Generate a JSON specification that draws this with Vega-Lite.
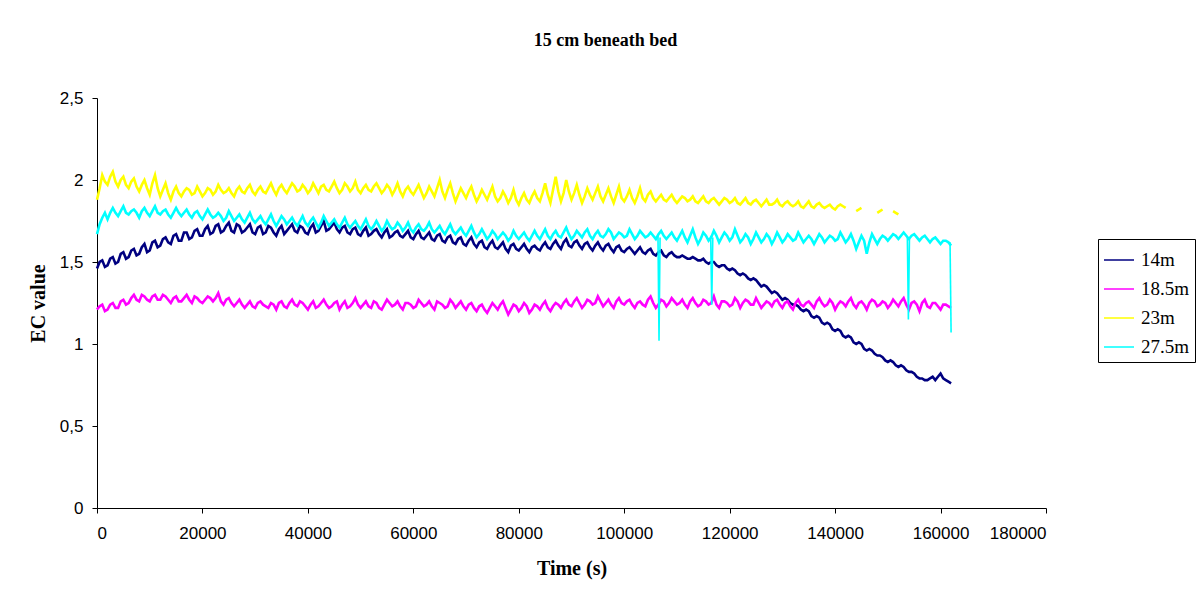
{
"$schema":"https://vega.github.io/schema/vega-lite/v6.json",
"width":949,"height":410,
"autosize":{"type":"none"},
"padding":{"left":97,"top":98,"right":152,"bottom":91},
"background":"white",
"title":{"text":"15 cm beneath bed","font":"Liberation Serif","fontSize":18,"fontWeight":"bold","color":"black","anchor":"middle","dx":34,"offset":39},
"config":{"view":{"stroke":null},
"locale":{"number":{"decimal":",","thousands":".","grouping":[3],"currency":["",""]}},
"axis":{"domainColor":"#000","tickColor":"#000","labelFont":"Liberation Sans","labelFontSize":17,"labelColor":"#000","titleFont":"Liberation Serif","titleFontSize":20,"titleFontWeight":"bold","titleColor":"#000","grid":false,"tickSize":5}},
"layer":[
{"data":{"values":[
{"t":0,"a":1.46,"b":1.21,"c":1.88,"d":1.67},
{"t":1000,"a":1.51,"b":1.24,"c":2.03,"d":1.77},
{"t":2000,"a":1.48,"b":1.21,"c":1.97,"d":1.76},
{"t":3000,"a":1.53,"b":1.25,"c":2.05,"d":1.83},
{"t":4000,"a":1.50,"b":1.22,"c":1.96,"d":1.78},
{"t":5000,"a":1.56,"b":1.27,"c":2.02,"d":1.84},
{"t":6000,"a":1.53,"b":1.25,"c":1.95,"d":1.79},
{"t":7000,"a":1.58,"b":1.30,"c":2.01,"d":1.82},
{"t":8000,"a":1.55,"b":1.26,"c":1.93,"d":1.77},
{"t":9000,"a":1.61,"b":1.29,"c":2.00,"d":1.83},
{"t":10000,"a":1.57,"b":1.26,"c":1.91,"d":1.78},
{"t":11000,"a":1.63,"b":1.30,"c":2.03,"d":1.84},
{"t":12000,"a":1.60,"b":1.27,"c":1.90,"d":1.79},
{"t":13000,"a":1.65,"b":1.29,"c":1.98,"d":1.82},
{"t":14000,"a":1.61,"b":1.25,"c":1.88,"d":1.77},
{"t":15000,"a":1.67,"b":1.29,"c":1.96,"d":1.83},
{"t":16000,"a":1.63,"b":1.26,"c":1.90,"d":1.78},
{"t":17000,"a":1.68,"b":1.30,"c":1.95,"d":1.82},
{"t":18000,"a":1.65,"b":1.25,"c":1.91,"d":1.77},
{"t":19000,"a":1.70,"b":1.28,"c":1.96,"d":1.81},
{"t":20000,"a":1.66,"b":1.25,"c":1.90,"d":1.76},
{"t":21000,"a":1.72,"b":1.29,"c":1.95,"d":1.82},
{"t":22000,"a":1.68,"b":1.26,"c":1.91,"d":1.77},
{"t":23000,"a":1.73,"b":1.31,"c":1.97,"d":1.80},
{"t":24000,"a":1.69,"b":1.24,"c":1.92,"d":1.75},
{"t":25000,"a":1.74,"b":1.28,"c":1.95,"d":1.81},
{"t":26000,"a":1.68,"b":1.23,"c":1.90,"d":1.75},
{"t":27000,"a":1.72,"b":1.27,"c":1.96,"d":1.79},
{"t":28000,"a":1.69,"b":1.22,"c":1.92,"d":1.74},
{"t":29000,"a":1.73,"b":1.26,"c":1.97,"d":1.80},
{"t":30000,"a":1.67,"b":1.22,"c":1.91,"d":1.74},
{"t":31000,"a":1.72,"b":1.26,"c":1.96,"d":1.78},
{"t":32000,"a":1.68,"b":1.23,"c":1.92,"d":1.73},
{"t":33000,"a":1.71,"b":1.25,"c":1.98,"d":1.79},
{"t":34000,"a":1.66,"b":1.21,"c":1.91,"d":1.72},
{"t":35000,"a":1.72,"b":1.26,"c":1.97,"d":1.78},
{"t":36000,"a":1.69,"b":1.22,"c":1.92,"d":1.73},
{"t":37000,"a":1.73,"b":1.27,"c":1.98,"d":1.77},
{"t":38000,"a":1.68,"b":1.23,"c":1.93,"d":1.72},
{"t":39000,"a":1.71,"b":1.25,"c":1.97,"d":1.78},
{"t":40000,"a":1.67,"b":1.21,"c":1.92,"d":1.72},
{"t":41000,"a":1.73,"b":1.26,"c":1.98,"d":1.77},
{"t":42000,"a":1.69,"b":1.23,"c":1.92,"d":1.71},
{"t":43000,"a":1.75,"b":1.27,"c":1.97,"d":1.78},
{"t":44000,"a":1.70,"b":1.22,"c":1.93,"d":1.72},
{"t":45000,"a":1.74,"b":1.25,"c":1.99,"d":1.76},
{"t":46000,"a":1.68,"b":1.21,"c":1.92,"d":1.71},
{"t":47000,"a":1.72,"b":1.26,"c":1.98,"d":1.77},
{"t":48000,"a":1.67,"b":1.23,"c":1.93,"d":1.71},
{"t":49000,"a":1.71,"b":1.28,"c":1.99,"d":1.75},
{"t":50000,"a":1.66,"b":1.22,"c":1.92,"d":1.70},
{"t":51000,"a":1.71,"b":1.26,"c":1.97,"d":1.76},
{"t":52000,"a":1.67,"b":1.22,"c":1.93,"d":1.70},
{"t":53000,"a":1.70,"b":1.25,"c":1.98,"d":1.75},
{"t":54000,"a":1.65,"b":1.21,"c":1.92,"d":1.69},
{"t":55000,"a":1.70,"b":1.27,"c":1.97,"d":1.75},
{"t":56000,"a":1.66,"b":1.23,"c":1.91,"d":1.70},
{"t":57000,"a":1.69,"b":1.26,"c":1.98,"d":1.74},
{"t":58000,"a":1.65,"b":1.21,"c":1.90,"d":1.69},
{"t":59000,"a":1.69,"b":1.25,"c":1.96,"d":1.74},
{"t":60000,"a":1.64,"b":1.22,"c":1.91,"d":1.68},
{"t":61000,"a":1.69,"b":1.27,"c":1.97,"d":1.73},
{"t":62000,"a":1.64,"b":1.23,"c":1.89,"d":1.69},
{"t":63000,"a":1.68,"b":1.26,"c":1.96,"d":1.74},
{"t":64000,"a":1.63,"b":1.21,"c":1.90,"d":1.68},
{"t":65000,"a":1.67,"b":1.25,"c":2.00,"d":1.72},
{"t":66000,"a":1.62,"b":1.22,"c":1.89,"d":1.67},
{"t":67000,"a":1.66,"b":1.27,"c":1.98,"d":1.73},
{"t":68000,"a":1.61,"b":1.22,"c":1.87,"d":1.67},
{"t":69000,"a":1.65,"b":1.26,"c":1.95,"d":1.71},
{"t":70000,"a":1.60,"b":1.21,"c":1.89,"d":1.66},
{"t":71000,"a":1.65,"b":1.25,"c":1.96,"d":1.72},
{"t":72000,"a":1.59,"b":1.20,"c":1.87,"d":1.65},
{"t":73000,"a":1.63,"b":1.24,"c":1.94,"d":1.70},
{"t":74000,"a":1.58,"b":1.19,"c":1.88,"d":1.64},
{"t":75000,"a":1.63,"b":1.25,"c":1.96,"d":1.69},
{"t":76000,"a":1.58,"b":1.21,"c":1.87,"d":1.64},
{"t":77000,"a":1.62,"b":1.26,"c":1.93,"d":1.68},
{"t":78000,"a":1.56,"b":1.18,"c":1.86,"d":1.63},
{"t":79000,"a":1.61,"b":1.24,"c":1.94,"d":1.69},
{"t":80000,"a":1.57,"b":1.20,"c":1.85,"d":1.64},
{"t":81000,"a":1.61,"b":1.25,"c":1.92,"d":1.68},
{"t":82000,"a":1.56,"b":1.19,"c":1.86,"d":1.63},
{"t":83000,"a":1.60,"b":1.24,"c":1.93,"d":1.69},
{"t":84000,"a":1.57,"b":1.21,"c":1.87,"d":1.64},
{"t":85000,"a":1.62,"b":1.26,"c":1.98,"d":1.70},
{"t":86000,"a":1.58,"b":1.20,"c":1.86,"d":1.64},
{"t":87000,"a":1.63,"b":1.25,"c":2.02,"d":1.69},
{"t":88000,"a":1.58,"b":1.22,"c":1.87,"d":1.65},
{"t":89000,"a":1.64,"b":1.27,"c":2.00,"d":1.71},
{"t":90000,"a":1.59,"b":1.23,"c":1.88,"d":1.64},
{"t":91000,"a":1.63,"b":1.28,"c":1.97,"d":1.69},
{"t":92000,"a":1.58,"b":1.22,"c":1.86,"d":1.65},
{"t":93000,"a":1.62,"b":1.27,"c":1.95,"d":1.70},
{"t":94000,"a":1.57,"b":1.24,"c":1.88,"d":1.64},
{"t":95000,"a":1.62,"b":1.29,"c":1.96,"d":1.69},
{"t":96000,"a":1.57,"b":1.23,"c":1.87,"d":1.65},
{"t":97000,"a":1.61,"b":1.27,"c":1.95,"d":1.70},
{"t":98000,"a":1.56,"b":1.22,"c":1.86,"d":1.64},
{"t":99000,"a":1.60,"b":1.28,"c":1.96,"d":1.68},
{"t":100000,"a":1.56,"b":1.24,"c":1.87,"d":1.65},
{"t":101000,"a":1.59,"b":1.27,"c":1.94,"d":1.70},
{"t":102000,"a":1.55,"b":1.22,"c":1.86,"d":1.64},
{"t":103000,"a":1.59,"b":1.26,"c":1.95,"d":1.69},
{"t":104000,"a":1.55,"b":1.23,"c":1.87,"d":1.65},
{"t":105000,"a":1.58,"b":1.29,"c":1.93,"d":1.68},
{"t":106000,"a":1.54,"b":1.22,"c":1.87,"d":1.64},
{"t":107000,"a":1.57,"b":1.27,"c":1.91,"d":1.69},
{"t":108000,"a":1.53,"b":1.23,"c":1.87,"d":1.64},
{"t":109000,"a":1.56,"b":1.28,"c":1.91,"d":1.68},
{"t":110000,"a":1.53,"b":1.24,"c":1.86,"d":1.63},
{"t":111000,"a":1.54,"b":1.27,"c":1.90,"d":1.69},
{"t":112000,"a":1.52,"b":1.22,"c":1.87,"d":1.62},
{"t":113000,"a":1.53,"b":1.28,"c":1.90,"d":1.70},
{"t":114000,"a":1.51,"b":1.23,"c":1.86,"d":1.61},
{"t":115000,"a":1.52,"b":1.27,"c":1.90,"d":1.68},
{"t":116000,"a":1.49,"b":1.24,"c":1.86,"d":1.63},
{"t":117000,"a":1.50,"b":1.29,"c":1.89,"d":1.69},
{"t":118000,"a":1.47,"b":1.22,"c":1.85,"d":1.62},
{"t":119000,"a":1.48,"b":1.26,"c":1.89,"d":1.68},
{"t":120000,"a":1.45,"b":1.23,"c":1.86,"d":1.63},
{"t":121000,"a":1.45,"b":1.28,"c":1.89,"d":1.70},
{"t":122000,"a":1.42,"b":1.22,"c":1.85,"d":1.62},
{"t":123000,"a":1.42,"b":1.27,"c":1.89,"d":1.67},
{"t":124000,"a":1.39,"b":1.24,"c":1.85,"d":1.61},
{"t":125000,"a":1.39,"b":1.28,"c":1.88,"d":1.68},
{"t":126000,"a":1.35,"b":1.22,"c":1.84,"d":1.62},
{"t":127000,"a":1.35,"b":1.26,"c":1.88,"d":1.67},
{"t":128000,"a":1.31,"b":1.23,"c":1.85,"d":1.61},
{"t":129000,"a":1.31,"b":1.27,"c":1.88,"d":1.68},
{"t":130000,"a":1.27,"b":1.22,"c":1.84,"d":1.62},
{"t":131000,"a":1.27,"b":1.26,"c":1.87,"d":1.67},
{"t":132000,"a":1.24,"b":1.21,"c":1.84,"d":1.63},
{"t":133000,"a":1.23,"b":1.27,"c":1.87,"d":1.68},
{"t":134000,"a":1.20,"b":1.23,"c":1.83,"d":1.62},
{"t":135000,"a":1.20,"b":1.26,"c":1.87,"d":1.66},
{"t":136000,"a":1.16,"b":1.22,"c":1.83,"d":1.61},
{"t":137000,"a":1.16,"b":1.28,"c":1.86,"d":1.67},
{"t":138000,"a":1.12,"b":1.23,"c":1.83,"d":1.62},
{"t":139000,"a":1.12,"b":1.27,"c":1.85,"d":1.66},
{"t":140000,"a":1.08,"b":1.21,"c":1.82,"d":1.63},
{"t":141000,"a":1.08,"b":1.26,"c":1.85,"d":1.68},
{"t":142000,"a":1.04,"b":1.23,"c":1.83,"d":1.62},
{"t":143000,"a":1.04,"b":1.28,"c":null,"d":1.67},
{"t":144000,"a":1.00,"b":1.22,"c":1.81,"d":1.58},
{"t":145000,"a":1.00,"b":1.26,"c":1.83,"d":1.66},
{"t":146000,"a":0.96,"b":1.21,"c":null,"d":1.55},
{"t":147000,"a":0.96,"b":1.27,"c":null,"d":1.67},
{"t":148000,"a":0.93,"b":1.23,"c":1.80,"d":1.61},
{"t":149000,"a":0.92,"b":1.26,"c":1.82,"d":1.66},
{"t":150000,"a":0.89,"b":1.22,"c":null,"d":1.63},
{"t":151000,"a":0.89,"b":1.27,"c":1.81,"d":1.67},
{"t":152000,"a":0.86,"b":1.23,"c":1.79,"d":1.64},
{"t":153000,"a":0.86,"b":1.28,"c":null,"d":1.68},
{"t":154000,"a":0.83,"b":1.21,"c":null,"d":1.64},
{"t":155000,"a":0.82,"b":1.26,"c":null,"d":1.67},
{"t":156000,"a":0.79,"b":1.20,"c":null,"d":1.63},
{"t":157000,"a":0.78,"b":1.27,"c":null,"d":1.66},
{"t":158000,"a":0.79,"b":1.22,"c":null,"d":1.62},
{"t":159000,"a":0.78,"b":1.25,"c":null,"d":1.65},
{"t":160000,"a":0.82,"b":1.21,"c":null,"d":1.61},
{"t":161000,"a":0.78,"b":1.24,"c":null,"d":1.63},
{"t":162000,"a":0.76,"b":1.22,"c":null,"d":1.60},
{"t":500,"a":1.50,"b":1.23,"c":1.95,"d":1.73},
{"t":1500,"a":1.47,"b":1.20,"c":1.99,"d":1.80},
{"t":2500,"a":1.52,"b":1.24,"c":2.02,"d":1.80},
{"t":3500,"a":1.49,"b":1.22,"c":1.99,"d":1.80},
{"t":4500,"a":1.55,"b":1.26,"c":2.00,"d":1.81},
{"t":5500,"a":1.52,"b":1.24,"c":1.97,"d":1.80},
{"t":6500,"a":1.57,"b":1.28,"c":1.99,"d":1.81},
{"t":7500,"a":1.54,"b":1.27,"c":1.96,"d":1.80},
{"t":8500,"a":1.59,"b":1.30,"c":1.97,"d":1.81},
{"t":9500,"a":1.56,"b":1.27,"c":1.95,"d":1.80},
{"t":10500,"a":1.62,"b":1.29,"c":1.98,"d":1.81},
{"t":11500,"a":1.59,"b":1.27,"c":1.95,"d":1.80},
{"t":12500,"a":1.64,"b":1.30,"c":1.94,"d":1.81},
{"t":13500,"a":1.62,"b":1.27,"c":1.92,"d":1.79},
{"t":14500,"a":1.66,"b":1.28,"c":1.93,"d":1.80},
{"t":15500,"a":1.63,"b":1.26,"c":1.92,"d":1.80},
{"t":16500,"a":1.68,"b":1.28,"c":1.93,"d":1.80},
{"t":17500,"a":1.64,"b":1.27,"c":1.94,"d":1.79},
{"t":18500,"a":1.69,"b":1.29,"c":1.92,"d":1.80},
{"t":19500,"a":1.66,"b":1.26,"c":1.93,"d":1.78},
{"t":20500,"a":1.70,"b":1.27,"c":1.92,"d":1.79},
{"t":21500,"a":1.67,"b":1.28,"c":1.94,"d":1.79},
{"t":22500,"a":1.72,"b":1.28,"c":1.93,"d":1.78},
{"t":23500,"a":1.68,"b":1.26,"c":1.94,"d":1.78},
{"t":24500,"a":1.72,"b":1.27,"c":1.93,"d":1.77},
{"t":25500,"a":1.69,"b":1.25,"c":1.92,"d":1.78},
{"t":26500,"a":1.73,"b":1.25,"c":1.94,"d":1.77},
{"t":27500,"a":1.68,"b":1.24,"c":1.93,"d":1.76},
{"t":28500,"a":1.71,"b":1.24,"c":1.95,"d":1.77},
{"t":29500,"a":1.68,"b":1.23,"c":1.93,"d":1.76},
{"t":30500,"a":1.71,"b":1.25,"c":1.94,"d":1.76},
{"t":31500,"a":1.67,"b":1.24,"c":1.93,"d":1.75},
{"t":32500,"a":1.72,"b":1.22,"c":1.95,"d":1.76},
{"t":33500,"a":1.68,"b":1.24,"c":1.94,"d":1.75},
{"t":34500,"a":1.70,"b":1.25,"c":1.95,"d":1.75},
{"t":35500,"a":1.67,"b":1.23,"c":1.94,"d":1.76},
{"t":36500,"a":1.71,"b":1.25,"c":1.95,"d":1.75},
{"t":37500,"a":1.69,"b":1.24,"c":1.96,"d":1.74},
{"t":38500,"a":1.72,"b":1.26,"c":1.94,"d":1.75},
{"t":39500,"a":1.68,"b":1.23,"c":1.95,"d":1.74},
{"t":40500,"a":1.71,"b":1.24,"c":1.94,"d":1.75},
{"t":41500,"a":1.68,"b":1.22,"c":1.95,"d":1.74},
{"t":42500,"a":1.72,"b":1.25,"c":1.96,"d":1.74},
{"t":43500,"a":1.69,"b":1.24,"c":1.94,"d":1.75},
{"t":44500,"a":1.72,"b":1.23,"c":1.96,"d":1.74},
{"t":45500,"a":1.70,"b":1.26,"c":1.95,"d":1.73},
{"t":46500,"a":1.71,"b":1.24,"c":1.94,"d":1.74},
{"t":47500,"a":1.68,"b":1.22,"c":1.96,"d":1.73},
{"t":48500,"a":1.70,"b":1.25,"c":1.95,"d":1.73},
{"t":49500,"a":1.67,"b":1.24,"c":1.94,"d":1.72},
{"t":50500,"a":1.69,"b":1.24,"c":1.95,"d":1.73},
{"t":51500,"a":1.66,"b":1.23,"c":1.94,"d":1.72},
{"t":52500,"a":1.69,"b":1.26,"c":1.96,"d":1.72},
{"t":53500,"a":1.67,"b":1.22,"c":1.95,"d":1.72},
{"t":54500,"a":1.68,"b":1.24,"c":1.94,"d":1.71},
{"t":55500,"a":1.65,"b":1.25,"c":1.95,"d":1.72},
{"t":56500,"a":1.68,"b":1.24,"c":1.94,"d":1.71},
{"t":57500,"a":1.66,"b":1.23,"c":1.93,"d":1.72},
{"t":58500,"a":1.67,"b":1.25,"c":1.94,"d":1.71},
{"t":59500,"a":1.65,"b":1.24,"c":1.93,"d":1.70},
{"t":60500,"a":1.67,"b":1.23,"c":1.94,"d":1.71},
{"t":61500,"a":1.65,"b":1.25,"c":1.93,"d":1.70},
{"t":62500,"a":1.66,"b":1.24,"c":1.92,"d":1.71},
{"t":63500,"a":1.64,"b":1.23,"c":1.93,"d":1.70},
{"t":64500,"a":1.66,"b":1.26,"c":1.95,"d":1.70},
{"t":65500,"a":1.63,"b":1.24,"c":1.93,"d":1.69},
{"t":66500,"a":1.65,"b":1.23,"c":1.94,"d":1.70},
{"t":67500,"a":1.62,"b":1.25,"c":1.92,"d":1.69},
{"t":68500,"a":1.64,"b":1.24,"c":1.91,"d":1.69},
{"t":69500,"a":1.61,"b":1.23,"c":1.92,"d":1.68},
{"t":70500,"a":1.63,"b":1.24,"c":1.93,"d":1.69},
{"t":71500,"a":1.61,"b":1.22,"c":1.91,"d":1.68},
{"t":72500,"a":1.62,"b":1.23,"c":1.90,"d":1.67},
{"t":73500,"a":1.59,"b":1.21,"c":1.91,"d":1.67},
{"t":74500,"a":1.61,"b":1.22,"c":1.92,"d":1.66},
{"t":75500,"a":1.59,"b":1.23,"c":1.90,"d":1.67},
{"t":76500,"a":1.60,"b":1.24,"c":1.89,"d":1.66},
{"t":77500,"a":1.58,"b":1.22,"c":1.90,"d":1.66},
{"t":78500,"a":1.60,"b":1.21,"c":1.89,"d":1.65},
{"t":79500,"a":1.58,"b":1.23,"c":1.88,"d":1.66},
{"t":80500,"a":1.59,"b":1.22,"c":1.89,"d":1.66},
{"t":81500,"a":1.58,"b":1.23,"c":1.88,"d":1.65},
{"t":82500,"a":1.59,"b":1.21,"c":1.90,"d":1.66},
{"t":83500,"a":1.58,"b":1.23,"c":1.89,"d":1.66},
{"t":84500,"a":1.60,"b":1.24,"c":1.92,"d":1.67},
{"t":85500,"a":1.59,"b":1.22,"c":1.91,"d":1.66},
{"t":86500,"a":1.61,"b":1.23,"c":1.94,"d":1.67},
{"t":87500,"a":1.60,"b":1.24,"c":1.93,"d":1.66},
{"t":88500,"a":1.62,"b":1.25,"c":1.92,"d":1.68},
{"t":89500,"a":1.60,"b":1.24,"c":1.93,"d":1.67},
{"t":90500,"a":1.62,"b":1.26,"c":1.92,"d":1.66},
{"t":91500,"a":1.60,"b":1.25,"c":1.91,"d":1.67},
{"t":92500,"a":1.61,"b":1.24,"c":1.90,"d":1.68},
{"t":93500,"a":1.59,"b":1.26,"c":1.91,"d":1.66},
{"t":94500,"a":1.60,"b":1.25,"c":1.92,"d":1.67},
{"t":95500,"a":1.59,"b":1.26,"c":1.90,"d":1.66},
{"t":96500,"a":1.60,"b":1.25,"c":1.91,"d":1.67},
{"t":97500,"a":1.58,"b":1.24,"c":1.90,"d":1.68},
{"t":98500,"a":1.59,"b":1.26,"c":1.91,"d":1.66},
{"t":99500,"a":1.57,"b":1.25,"c":1.89,"d":1.67},
{"t":100500,"a":1.58,"b":1.26,"c":1.90,"d":1.66},
{"t":101500,"a":1.57,"b":1.24,"c":1.89,"d":1.67},
{"t":102500,"a":1.57,"b":1.25,"c":1.90,"d":1.66},
{"t":103500,"a":1.56,"b":1.24,"c":1.89,"d":1.67},
{"t":104500,"a":1.57,"b":1.27,"c":1.91,"d":1.66},
{"t":105500,"a":1.55,"b":1.25,"c":1.89,"d":1.66},
{"t":106500,"a":1.56,"b":1.24,"c":1.89,"d":1.67},
{"t":107500,"a":1.54,"b":1.26,"c":1.88,"d":1.66},
{"t":108500,"a":1.55,"b":1.25,"c":1.89,"d":1.66},
{"t":109500,"a":1.54,"b":1.26,"c":1.88,"d":1.65},
{"t":110500,"a":1.53,"b":1.25,"c":1.88,"d":1.66},
{"t":111500,"a":1.53,"b":1.24,"c":1.89,"d":1.65},
{"t":112500,"a":1.52,"b":1.26,"c":1.88,"d":1.66},
{"t":113500,"a":1.52,"b":1.25,"c":1.87,"d":1.65},
{"t":114500,"a":1.51,"b":1.24,"c":1.88,"d":1.64},
{"t":115500,"a":1.50,"b":1.26,"c":1.87,"d":1.66},
{"t":116500,"a":1.50,"b":1.25,"c":1.88,"d":1.65},
{"t":117500,"a":1.48,"b":1.24,"c":1.87,"d":1.66},
{"t":118500,"a":1.48,"b":1.26,"c":1.87,"d":1.65},
{"t":119500,"a":1.46,"b":1.25,"c":1.88,"d":1.66},
{"t":120500,"a":1.46,"b":1.24,"c":1.87,"d":1.65},
{"t":121500,"a":1.43,"b":1.26,"c":1.86,"d":1.66},
{"t":122500,"a":1.43,"b":1.25,"c":1.87,"d":1.64},
{"t":123500,"a":1.40,"b":1.26,"c":1.86,"d":1.65},
{"t":124500,"a":1.40,"b":1.24,"c":1.87,"d":1.64},
{"t":125500,"a":1.37,"b":1.25,"c":1.86,"d":1.65},
{"t":126500,"a":1.36,"b":1.24,"c":1.86,"d":1.64},
{"t":127500,"a":1.33,"b":1.25,"c":1.85,"d":1.65},
{"t":128500,"a":1.32,"b":1.26,"c":1.86,"d":1.64},
{"t":129500,"a":1.29,"b":1.24,"c":1.85,"d":1.65},
{"t":130500,"a":1.28,"b":1.25,"c":1.86,"d":1.64},
{"t":131500,"a":1.25,"b":1.23,"c":1.85,"d":1.65},
{"t":132500,"a":1.24,"b":1.25,"c":1.85,"d":1.64},
{"t":133500,"a":1.21,"b":1.24,"c":1.84,"d":1.65},
{"t":134500,"a":1.21,"b":1.25,"c":1.85,"d":1.64},
{"t":135500,"a":1.17,"b":1.24,"c":1.84,"d":1.64},
{"t":136500,"a":1.17,"b":1.26,"c":1.85,"d":1.64},
{"t":137500,"a":1.13,"b":1.25,"c":1.84,"d":1.65},
{"t":138500,"a":1.13,"b":1.24,"c":1.84,"d":1.64},
{"t":139500,"a":1.09,"b":1.25,"c":1.83,"d":1.65},
{"t":140500,"a":1.09,"b":1.24,"c":1.84,"d":1.64},
{"t":141500,"a":1.05,"b":1.25,"c":1.84,"d":1.65},
{"t":142500,"a":1.05,"b":1.26,"c":null,"d":1.64},
{"t":143500,"a":1.01,"b":1.24,"c":null,"d":1.63},
{"t":144500,"a":1.01,"b":1.25,"c":1.82,"d":1.62},
{"t":145500,"a":0.97,"b":1.24,"c":null,"d":1.63},
{"t":146500,"a":0.97,"b":1.25,"c":null,"d":1.62},
{"t":147500,"a":0.94,"b":1.26,"c":null,"d":1.64},
{"t":148500,"a":0.93,"b":1.24,"c":1.81,"d":1.64},
{"t":149500,"a":0.90,"b":1.25,"c":null,"d":1.65},
{"t":150500,"a":0.90,"b":1.24,"c":null,"d":1.65},
{"t":151500,"a":0.87,"b":1.25,"c":1.80,"d":1.66},
{"t":152500,"a":0.87,"b":1.26,"c":null,"d":1.66},
{"t":153500,"a":0.84,"b":1.24,"c":null,"d":1.66},
{"t":154500,"a":0.83,"b":1.25,"c":null,"d":1.66},
{"t":155500,"a":0.80,"b":1.24,"c":null,"d":1.65},
{"t":156500,"a":0.79,"b":1.25,"c":null,"d":1.65},
{"t":157500,"a":0.78,"b":1.23,"c":null,"d":1.64},
{"t":158500,"a":0.80,"b":1.25,"c":null,"d":1.64},
{"t":159500,"a":0.80,"b":1.23,"c":null,"d":1.63},
{"t":160500,"a":0.79,"b":1.24,"c":null,"d":1.63},
{"t":161500,"a":0.77,"b":1.23,"c":null,"d":1.62}
]},
"transform":[{"fold":["a","b","c","d"],"as":["s","v"]}],
"mark":{"type":"line","strokeWidth":2.6,"strokeJoin":"miter"},
"encoding":{
"x":{"field":"t","type":"quantitative","scale":{"domain":[0,180000],"nice":false},
"axis":{"title":"Time  (s)","values":[0,20000,40000,60000,80000,100000,120000,140000,160000,180000],"format":"d","labelPadding":12,"titlePadding":17}},
"y":{"field":"v","type":"quantitative","scale":{"domain":[0,2.5],"nice":false},
"axis":{"title":"EC value","values":[0,0.5,1,1.5,2,2.5],"format":"~g","labelPadding":9,"titlePadding":11}},
"color":{"field":"s","type":"nominal","scale":{"domain":["a","b","c","d"],"range":["#000080","#FF00FF","#FFFF00","#00FFFF"]},
"legend":{"title":null,"orient":"none","legendX":1001,"legendY":141,"strokeColor":"#000","fillColor":"white","padding":5,"symbolType":"stroke","symbolSize":900,"symbolStrokeWidth":1.5,"labelFont":"Liberation Serif","labelFontSize":19,"labelColor":"#000","labelOffset":6,"rowPadding":3,
"labelExpr":"datum.label == 'a' ? '14m' : datum.label == 'b' ? '18.5m' : datum.label == 'c' ? '23m' : '27.5m'"}}
}},
{"data":{"values":[
{"t":106400,"v":1.66,"g":1},{"t":106600,"v":1.02,"g":1},{"t":106800,"v":1.65,"g":1},
{"t":116400,"v":1.66,"g":2},{"t":116600,"v":1.24,"g":2},{"t":116800,"v":1.65,"g":2},
{"t":153700,"v":1.65,"g":3},{"t":153900,"v":1.15,"g":3},{"t":154100,"v":1.64,"g":3},
{"t":161800,"v":1.62,"g":4},{"t":162000,"v":1.07,"g":4}
]},
"mark":{"type":"line","strokeWidth":1.6,"color":"#00FFFF"},
"encoding":{"x":{"field":"t","type":"quantitative"},"y":{"field":"v","type":"quantitative"},"detail":{"field":"g","type":"nominal"}}}
]
}
